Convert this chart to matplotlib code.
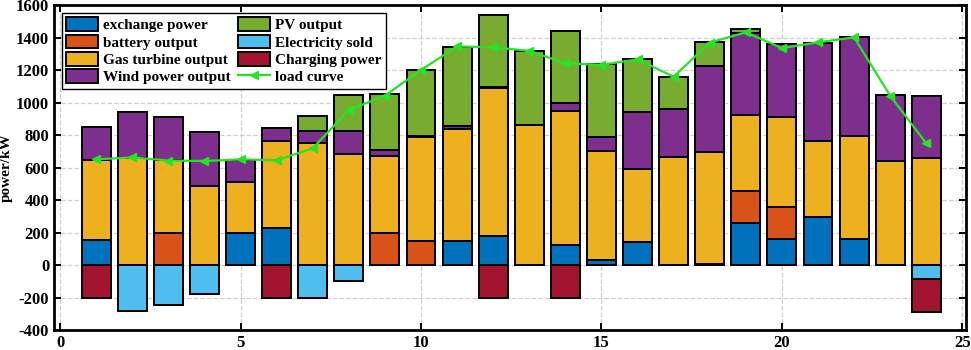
import matplotlib
matplotlib.use("Agg")
import matplotlib.pyplot as plt
import numpy as np

# hourly dispatch data (kW)
hours = np.arange(1, 25)
exchange_power = [155, 0, 0, 0, 200, 230, 0, 0, 0, 0, 150, 180, 0, 125, 32, 140, 0, 5, 258, 160, 295, 160, 0, 0]
battery_output = [0, 0, 198, 0, 0, 0, 0, 0, 198, 150, 0, 0, 0, 0, 0, 0, 0, 0, 200, 200, 0, 0, 0, 0]
gas_turbine = [490, 658, 447, 488, 312, 535, 750, 684, 471, 636, 689, 907, 862, 825, 669, 450, 667, 691, 467, 551, 468, 632, 637, 660]
wind_output = [202, 284, 265, 330, 135, 80, 72, 142, 37, 8, 16, 10, 0, 45, 85, 349, 291, 531, 503, 447, 605, 610, 409, 381]
pv_output = [0, 0, 0, 0, 0, 0, 96, 219, 344, 407, 485, 444, 456, 446, 449, 327, 202, 143, 24, 0, 0, 0, 0, 0]
electricity_sold = [0, -281, -248, -180, 0, 0, -200, -100, 0, 0, 0, 0, 0, 0, 0, 0, 0, 0, 0, 0, 0, 0, 0, -88]
charging_power = [-200, 0, 0, 0, 0, -200, 0, 0, 0, 0, 0, -200, 0, -200, 0, 0, 0, 0, 0, 0, 0, 0, 0, -202]
load_curve = [650, 662, 643, 640, 650, 645, 718, 954, 1042, 1200, 1345, 1340, 1318, 1241, 1232, 1265, 1159, 1368, 1432, 1335, 1370, 1401, 1042, 749]

plt.rcParams['font.family'] = ['Liberation Serif', 'DejaVu Serif']
plt.rcParams['font.weight'] = 'bold'
plt.rcParams['axes.unicode_minus'] = False

fig = plt.figure(figsize=(9.71, 3.5), dpi=100)
ax = fig.add_axes([0.0556, 0.0571, 0.9392, 0.9286])

w = 0.8
ec = dict(edgecolor='black', linewidth=1.4)
b1 = np.array(exchange_power, dtype=float)
b2 = b1 + battery_output
b3 = b2 + gas_turbine
b4 = b3 + wind_output
h1 = ax.bar(hours, exchange_power, w, color='#0072BD', label='exchange power', **ec)
h2 = ax.bar(hours, battery_output, w, bottom=b1, color='#D95319', label='battery output', **ec)
h3 = ax.bar(hours, gas_turbine, w, bottom=b2, color='#EDB120', label='Gas turbine output', **ec)
h4 = ax.bar(hours, wind_output, w, bottom=b3, color='#7E2F8E', label='Wind power output', **ec)
h5 = ax.bar(hours, pv_output, w, bottom=b4, color='#77AC30', label='PV output', **ec)
h6 = ax.bar(hours, electricity_sold, w, color='#4DBEEE', label='Electricity sold', **ec)
h7 = ax.bar(hours, charging_power, w, bottom=electricity_sold, color='#A2142F', label='Charging power', **ec)
h8, = ax.plot(hours, load_curve, color='#22E622', linewidth=1.6, marker='<', markersize=5.5,
              label='load curve', zorder=5)

ax.set_xlim(-0.17, 25.1)
ax.set_ylim(-400, 1600)
ax.set_xticks(range(0, 26, 5))
ax.set_yticks(range(-400, 1601, 200))
ax.grid(True, linestyle='--', color='#d0d0d0', linewidth=0.9)
ax.set_axisbelow(True)
ax.tick_params(direction='in', top=True, right=True, labelsize=12, width=1.4, length=5)
for s in ax.spines.values():
    s.set_linewidth(2)
ax.set_ylabel('power/kW', fontsize=11, fontweight='bold', labelpad=2)

ax.legend(handles=[h1, h2, h3, h4, h5, h6, h7, h8], loc='upper left', ncol=2, fontsize=11,
          frameon=True, fancybox=False, edgecolor='black', framealpha=1,
          handlelength=2.1, handleheight=1.0, labelspacing=0.15, columnspacing=0.5,
          handletextpad=0.3, borderpad=0.3, borderaxespad=0.5)

fig.savefig('out.png', dpi=100)
